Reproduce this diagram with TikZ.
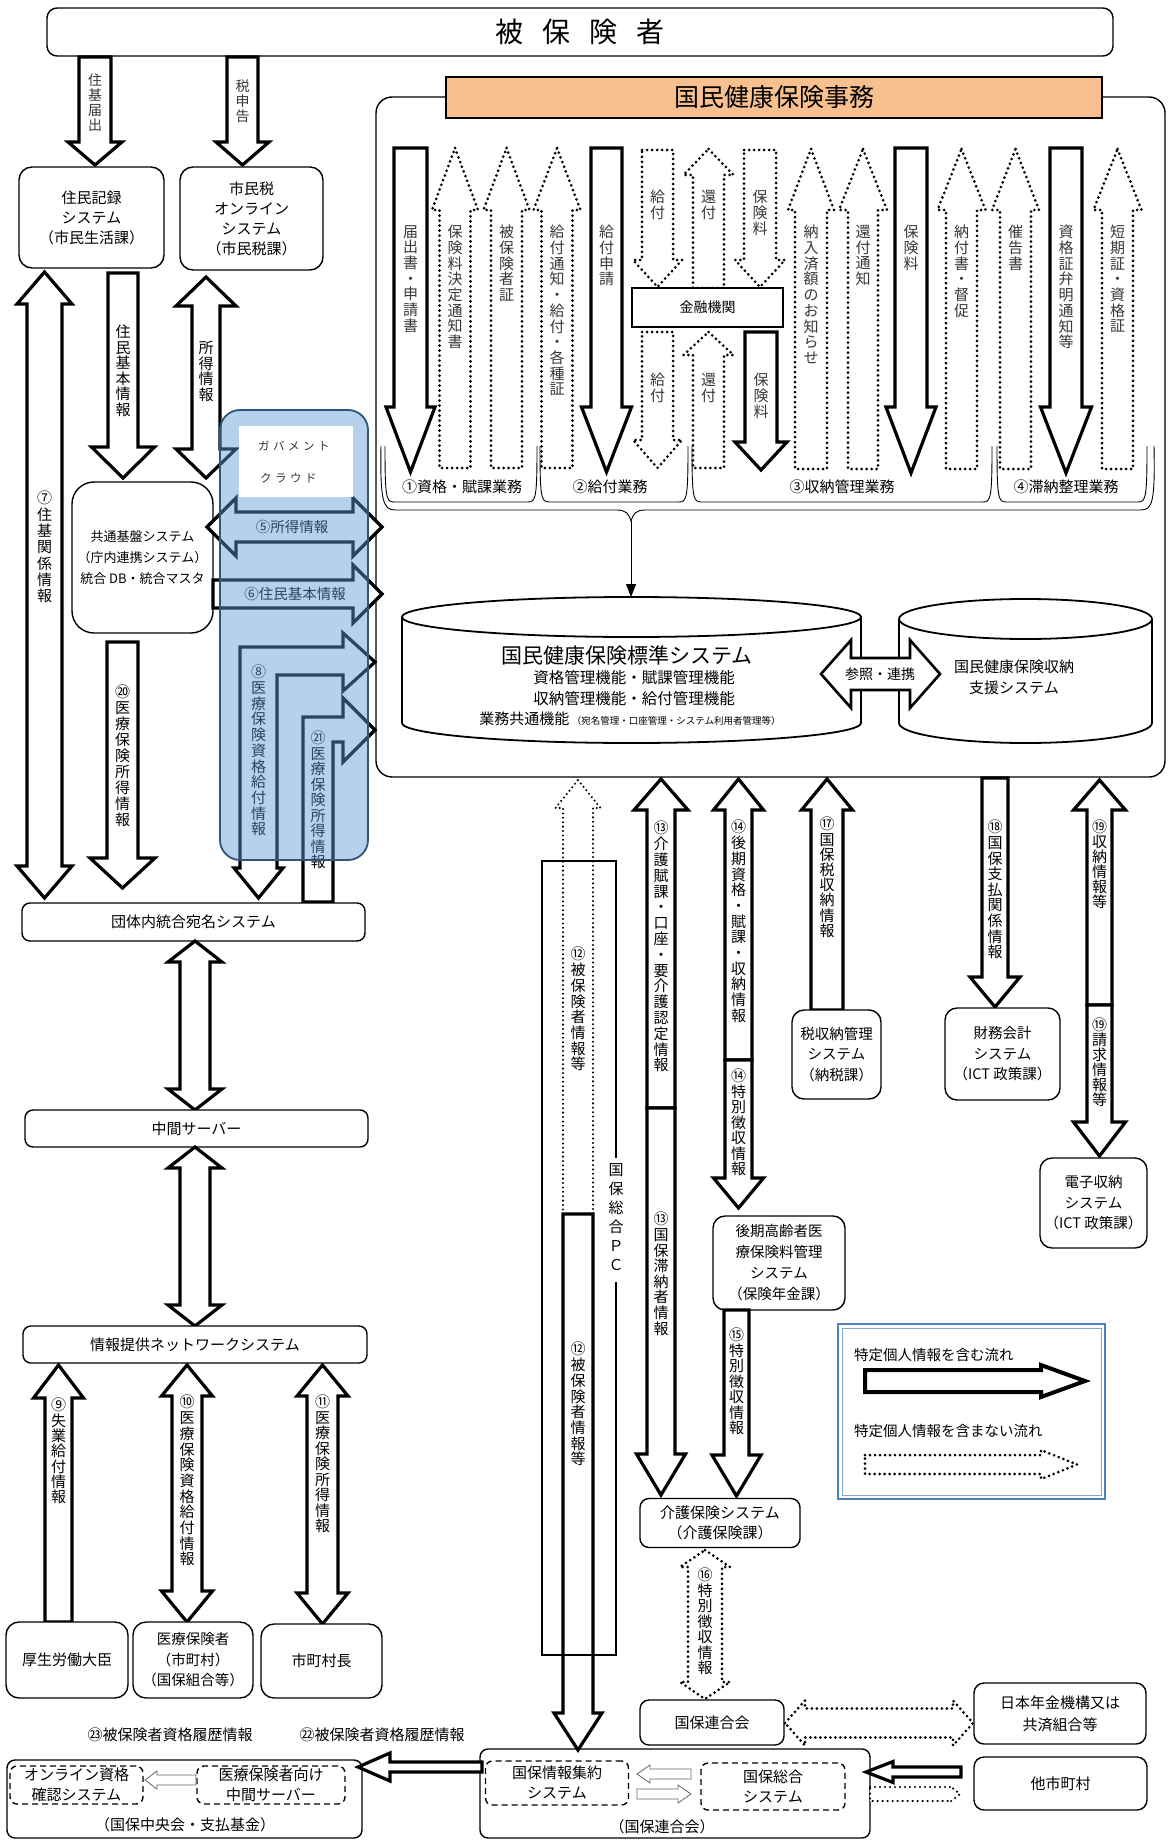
\documentclass[tikz,border=0pt]{standalone}
\usepackage{fontspec}
\setmainfont{Noto Sans CJK JP}
\usetikzlibrary{arrows.meta}
\definecolor{orng}{RGB}{248,192,142}
\definecolor{cloudfill}{RGB}{91,155,213}
\definecolor{cloudline}{RGB}{47,85,120}
\definecolor{legblue}{RGB}{79,129,189}
\makeatletter
\def\vt@end{\vt@end@@}
\newcommand\vtxt[2][15.7]{\vbox{\baselineskip=#1pt\lineskiplimit=-100pt\lineskip=0pt\vt@loop#2\vt@end}}
\def\vt@loop#1{\ifx#1\vt@end\else\hbox to 1.1em{\hss#1\hss}\expandafter\vt@loop\fi}
\makeatother
% vertical arrows: [style]{cx}{ytop}{ybot}{shaft half}{head half}{head len}
\newcommand\ArrD[7][]{%
 \pgfmathsetmacro\zaL{#2-#5}\pgfmathsetmacro\zaR{#2+#5}%
 \pgfmathsetmacro\zhL{#2-#6}\pgfmathsetmacro\zhR{#2+#6}%
 \pgfmathsetmacro\zyB{#4-#7}%
 \draw[#1] (\zaL,#3) -- (\zaR,#3) -- (\zaR,\zyB) -- (\zhR,\zyB) -- (#2,#4) -- (\zhL,\zyB) -- (\zaL,\zyB) -- cycle;}
\newcommand\ArrU[7][]{%
 \pgfmathsetmacro\zaL{#2-#5}\pgfmathsetmacro\zaR{#2+#5}%
 \pgfmathsetmacro\zhL{#2-#6}\pgfmathsetmacro\zhR{#2+#6}%
 \pgfmathsetmacro\zyT{#3+#7}%
 \draw[#1] (#2,#3) -- (\zhR,\zyT) -- (\zaR,\zyT) -- (\zaR,#4) -- (\zaL,#4) -- (\zaL,\zyT) -- (\zhL,\zyT) -- cycle;}
\newcommand\ArrB[7][]{%
 \pgfmathsetmacro\zaL{#2-#5}\pgfmathsetmacro\zaR{#2+#5}%
 \pgfmathsetmacro\zhL{#2-#6}\pgfmathsetmacro\zhR{#2+#6}%
 \pgfmathsetmacro\zyT{#3+#7}\pgfmathsetmacro\zyB{#4-#7}%
 \draw[#1] (#2,#3) -- (\zhR,\zyT) -- (\zaR,\zyT) -- (\zaR,\zyB) -- (\zhR,\zyB) -- (#2,#4) -- (\zhL,\zyB) -- (\zaL,\zyB) -- (\zaL,\zyT) -- (\zhL,\zyT) -- cycle;}
% horizontal arrows: [style]{cy}{xleft}{xright}{shaft half}{head half}{head len}
\newcommand\ArrR[7][]{%
 \pgfmathsetmacro\zaT{#2-#5}\pgfmathsetmacro\zaB{#2+#5}%
 \pgfmathsetmacro\zhT{#2-#6}\pgfmathsetmacro\zhB{#2+#6}%
 \pgfmathsetmacro\zxB{#4-#7}%
 \draw[#1] (#3,\zaT) -- (\zxB,\zaT) -- (\zxB,\zhT) -- (#4,#2) -- (\zxB,\zhB) -- (\zxB,\zaB) -- (#3,\zaB) -- cycle;}
\newcommand\ArrL[7][]{%
 \pgfmathsetmacro\zaT{#2-#5}\pgfmathsetmacro\zaB{#2+#5}%
 \pgfmathsetmacro\zhT{#2-#6}\pgfmathsetmacro\zhB{#2+#6}%
 \pgfmathsetmacro\zxB{#3+#7}%
 \draw[#1] (#3,#2) -- (\zxB,\zhT) -- (\zxB,\zaT) -- (#4,\zaT) -- (#4,\zaB) -- (\zxB,\zaB) -- (\zxB,\zhB) -- cycle;}
\newcommand\ArrLR[7][]{%
 \pgfmathsetmacro\zaT{#2-#5}\pgfmathsetmacro\zaB{#2+#5}%
 \pgfmathsetmacro\zhT{#2-#6}\pgfmathsetmacro\zhB{#2+#6}%
 \pgfmathsetmacro\zxA{#3+#7}\pgfmathsetmacro\zxB{#4-#7}%
 \draw[#1] (#3,#2) -- (\zxA,\zhT) -- (\zxA,\zaT) -- (\zxB,\zaT) -- (\zxB,\zhT) -- (#4,#2) -- (\zxB,\zhB) -- (\zxB,\zaB) -- (\zxA,\zaB) -- (\zxA,\zhB) -- cycle;}
\newcommand\grpbr[2]{\draw[line width=0.9pt] (#1,446) .. controls (#1,497) and (#1+1,502) .. (#1+9,502) -- (#2-9,502) .. controls (#2-1,502) and (#2,497) .. (#2,446);}
\begin{document}
\begin{tikzpicture}[x=1pt,y=-1pt,
 every node/.style={inner sep=0pt, font=\fontsize{15}{20}\selectfont},
 rbox/.style={draw, line width=1.4pt, rounded corners=13pt, fill=white, align=center},
 sbox/.style={draw, line width=1.4pt, fill=white, align=center},
 dbox/.style={draw, line width=1.4pt, dash pattern=on 6pt off 4pt, rounded corners=7pt, align=center},
 vlab/.style={anchor=north, font=\fontsize{15}{16}\selectfont},
 vlabg/.style={vlab, text=black!78},
 sarr/.style={draw, line width=3.2pt, fill=white},
 darr/.style={draw, line width=3pt, fill=white, dash pattern=on 0pt off 5pt, line cap=round},
 darrthin/.style={draw, line width=2.3pt, fill=white, dash pattern=on 0pt off 4.4pt, line cap=round},
 thinarr/.style={draw=black!60, line width=0.8pt, fill=white}]
\useasboundingbox (0,0) rectangle (1168,1843);
\fill[white] (0,0) rectangle (1168,1843);

% ===== top =====
\node[rbox, rounded corners=10pt, minimum width=1066pt, minimum height=48pt, font=\fontsize{28}{30}\selectfont] (hiho) at (580,32) {被\hspace{19pt}保\hspace{19pt}険\hspace{19pt}者};
\node[draw, line width=1.4pt, rounded corners=16pt, minimum width=789pt, minimum height=680pt] (kokuho) at (770.5,437) {};
\node[draw, line width=1.8pt, fill=orng, minimum width=656pt, minimum height=41pt, font=\fontsize{25}{28}\selectfont] (title) at (774,97.5) {国民健康保険事務};

\ArrD[sarr]{95}{57}{165}{16}{27}{23}
\node[vlabg, font=\fontsize{14}{15}\selectfont] at (95,74) {\vtxt[15]{住基届出}};
\ArrD[sarr]{242.5}{57}{165}{15.5}{26.5}{23}
\node[vlabg, font=\fontsize{14}{15}\selectfont] at (242.5,80) {\vtxt[15]{税申告}};

\node[rbox, minimum width=145pt, minimum height=101pt] (jumin) at (91.5,217.5) {住民記録\\システム\\（市民生活課）};
\node[rbox, minimum width=143pt, minimum height=103pt] (shimin) at (251.5,218.5) {市民税\\オンライン\\システム\\（市民税課）};

% ===== business arrows inside main box =====
\ArrD[sarr]{410.5}{148}{472}{16.5}{24.5}{65}
\node[vlabg] at (410.5,225) {\vtxt{届出書・申請書}};
\ArrU[darr]{455}{148}{468}{15.5}{23}{62}
\node[vlabg] at (455,225) {\vtxt{保険料決定通知書}};
\ArrU[darr]{506.5}{148}{468}{15.5}{23}{62}
\node[vlabg] at (506.5,225) {\vtxt{被保険者証}};
\ArrU[darr]{557}{148}{468}{15.5}{23.5}{62}
\node[vlabg] at (557,225) {\vtxt{給付通知・給付・各種証}};
\ArrD[sarr]{606.5}{148}{472}{15.5}{25}{65}
\node[vlabg] at (606.5,225) {\vtxt{給付申請}};
\ArrD[darr]{657.5}{150}{287}{15.5}{24.5}{27}
\node[vlabg] at (657.5,190) {\vtxt{給付}};
\ArrU[darr]{708.5}{149}{288}{15.5}{25}{26}
\node[vlabg] at (708.5,190) {\vtxt{還付}};
\ArrD[darr]{760}{150}{287}{16}{25}{27}
\node[vlabg] at (760,190) {\vtxt{保険料}};
\node[sbox, line width=2pt, minimum width=151pt, minimum height=39pt, font=\fontsize{14}{16}\selectfont] (kin) at (707.5,307.5) {金融機関};
\ArrD[darr]{657.5}{332}{468}{15.5}{24.5}{28}
\node[vlabg] at (657.5,373) {\vtxt{給付}};
\ArrU[darr]{708.5}{332}{468}{15.5}{25}{23}
\node[vlabg] at (708.5,373) {\vtxt{還付}};
\ArrD[sarr]{761}{332}{470}{16}{26}{28}
\node[vlabg] at (761,373) {\vtxt{保険料}};
\ArrU[darr]{811}{149}{469}{16}{23}{61}
\node[vlabg] at (811,225) {\vtxt{納入済額のお知らせ}};
\ArrU[darr]{863}{149}{469}{15}{24}{61}
\node[vlabg] at (863,225) {\vtxt{還付通知}};
\ArrD[sarr]{911}{148}{473}{16}{25}{66}
\node[vlabg] at (911,225) {\vtxt{保険料}};
\ArrU[darr]{961.5}{149}{469}{15.5}{24}{61}
\node[vlabg] at (961.5,225) {\vtxt{納付書・督促}};
\ArrU[darr]{1015.5}{149}{469}{15.5}{23.5}{61}
\node[vlabg] at (1015.5,225) {\vtxt{催告書}};
\ArrD[sarr]{1066}{148}{473}{16}{25.5}{66}
\node[vlabg] at (1066,225) {\vtxt{資格証弁明通知等}};
\ArrU[darr]{1117.5}{149}{469}{15.5}{24}{61}
\node[vlabg] at (1117.5,225) {\vtxt{短期証・資格証}};

\grpbr{385}{537}
\grpbr{540}{688}
\grpbr{692}{992}
\grpbr{997}{1147}
\node (g1) at (462,487) {①資格・賦課業務};
\node (g2) at (610,487) {②給付業務};
\node (g3) at (842,487) {③収納管理業務};
\node (g4) at (1066,487) {④滞納整理業務};
\draw[line width=0.9pt] (381,446) .. controls (380,500) and (383,510) .. (395,510) -- (617,510) .. controls (626,510) and (629,514) .. (631,521) .. controls (633,514) and (636,510) .. (645,510) -- (1141,510) .. controls (1153,510) and (1155,500) .. (1154,446);
\coordinate (brace) at (631,521);
\coordinate (stdtop) at (631,597);
\draw[line width=1pt, -{Triangle[length=13pt,width=10pt]}] (brace) -- (stdtop);

% cylinders
\draw[line width=1.8pt, fill=white] (402,617) -- (402,723) .. controls (402,734) and (504.7,743) .. (631.5,743) .. controls (758.3,743) and (861,734) .. (861,723) -- (861,617);
\draw[line width=1.8pt, fill=white] (631.5,617) ellipse [x radius=229.5, y radius=20];
\draw[line width=1.8pt, fill=white] (899,619) -- (899,723) .. controls (899,734) and (955.6,743) .. (1025.5,743) .. controls (1095.4,743) and (1152,734) .. (1152,723) -- (1152,619);
\draw[line width=1.8pt, fill=white] (1025.5,619) ellipse [x radius=126.5, y radius=20];
\node[font=\fontsize{21}{24}\selectfont] (std) at (627,656) {国民健康保険標準システム};
\node[font=\fontsize{15.5}{18}\selectfont] at (634,678) {資格管理機能・賦課管理機能};
\node[font=\fontsize{15.5}{18}\selectfont] at (634,699) {収納管理機能・給付管理機能};
\node[font=\fontsize{15}{18}\selectfont] at (630,719) {業務共通機能\,{\fontsize{9.5}{10}\selectfont （宛名管理・口座管理・システム利用者管理等）}};
\node[align=center, font=\fontsize{15}{21}\selectfont] (shuno) at (1014,677) {国民健康保険収納\\支援システム};
\ArrLR[sarr, line width=2.6pt]{674}{821}{940}{16}{34}{30}
\node[font=\fontsize{14}{16}\selectfont] at (880,674) {参照・連携};

% ===== left column =====
\ArrB[sarr]{44.5}{272}{898}{17.5}{27.5}{32}
\node[vlab] at (44.5,491) {\vtxt[16.3]{⑦住基関係情報}};
\ArrD[sarr]{123}{273}{478}{15}{31.5}{31}
\node[vlab] at (123,325) {\vtxt[15.5]{住民基本情報}};
\ArrB[sarr]{206}{277}{478}{14}{30}{29}
\node[vlab] at (206,341) {\vtxt[15.5]{所得情報}};
\node[rbox, rounded corners=22pt, minimum width=141pt, minimum height=151pt, font=\fontsize{13}{21}\selectfont] (kiban) at (142.5,557.5) {共通基盤システム\\（庁内連携システム）\\統合 DB・統合マスタ};
\ArrD[sarr]{122.5}{642}{888}{15.5}{32.5}{30}
\node[vlab] at (122.5,685) {\vtxt[16]{⑳医療保険所得情報}};

% arrows through gov cloud
\ArrLR[sarr]{527}{207}{382}{15}{29}{29}
\node[font=\fontsize{14.5}{16}\selectfont] at (292,527) {⑤所得情報};
\ArrR[sarr]{594}{213}{382}{14}{29}{29}
\node[font=\fontsize{14.5}{16}\selectfont] at (295,594) {⑥住民基本情報};
\draw[sarr] (240,868) -- (240,647) -- (343,647) -- (343,633) -- (375,662) -- (343,691) -- (343,675) -- (277,675) -- (277,868) -- (283,868) -- (258.5,898) -- (234,868) -- cycle;
\draw[sarr] (303,902) -- (303,717) -- (343,717) -- (343,698) -- (375,730) -- (343,762) -- (343,742) -- (333,742) -- (333,902) -- cycle;
\node[vlab] at (258.5,665) {\vtxt[15.7]{⑧医療保険資格給付情報}};
\node[vlab] at (318,731) {\vtxt[15.5]{㉑医療保険所得情報}};
% cloud overlay
\fill[cloudfill, fill opacity=0.45, rounded corners=20pt] (220,410) rectangle (368,860);
\draw[cloudline, line width=1.8pt, rounded corners=20pt] (220,410) rectangle (368,860);
\fill[white] (239,426) rectangle (353,497);
\node[anchor=west, text=black!80, font=\fontsize{11.5}{12}\selectfont] (gov) at (258,446) {ガ\hspace{3.5pt}バ\hspace{3.5pt}メ\hspace{3.5pt}ン\hspace{3.5pt}ト};
\node[anchor=west, text=black!80, font=\fontsize{11.5}{12}\selectfont] (cloud) at (260,478) {ク\hspace{3.5pt}ラ\hspace{3.5pt}ウ\hspace{3.5pt}ド};

\node[rbox, rounded corners=8pt, minimum width=343pt, minimum height=38pt] (dantai) at (193.5,922) {団体内統合宛名システム};
\ArrB[sarr]{195}{941}{1110}{15}{27}{21}
\node[rbox, rounded corners=8pt, minimum width=343pt, minimum height=37pt] (chukan) at (196.5,1128.5) {中間サーバー};
\ArrB[sarr]{195}{1147}{1326}{15}{27}{21}
\node[rbox, rounded corners=8pt, minimum width=344pt, minimum height=37pt] (joho) at (195,1344.5) {情報提供ネットワークシステム};

\ArrU[sarr]{58.5}{1365}{1622}{13.5}{25}{33}
\node[vlab] at (58.5,1398) {\vtxt[15.3]{⑨失業給付情報}};
\ArrB[sarr]{187}{1365}{1622}{15}{25.5}{31}
\node[vlab] at (187,1395) {\vtxt[15.7]{⑩医療保険資格給付情報}};
\ArrB[sarr]{322.5}{1365}{1624}{15.5}{25.5}{31}
\node[vlab] at (322.5,1395) {\vtxt[15.5]{⑪医療保険所得情報}};
\node[rbox, minimum width=122pt, minimum height=76pt] (kosei) at (67,1660) {厚生労働大臣};
\node[rbox, minimum width=120pt, minimum height=76pt, font=\fontsize{14.5}{20.5}\selectfont] (iryo) at (193,1660) {医療保険者\\（市町村）\\（国保組合等）};
\node[rbox, minimum width=121pt, minimum height=74pt] (chocho) at (321.5,1661) {市町村長};

% bottom left
\node (t23) at (170,1735) {㉓被保険者資格履歴情報};
\node (t22) at (382,1735) {㉒被保険者資格履歴情報};
\draw[line width=1.4pt, rounded corners=8pt] (7,1760) rectangle (362,1838);
\node (chuo) at (185,1825) {（国保中央会・支払基金）};
\node[dbox, minimum width=133pt, minimum height=38pt] (online) at (76.5,1785) {オンライン資格\\確認システム};
\node[dbox, minimum width=148pt, minimum height=38pt] (iryochukan) at (271,1785) {医療保険者向け\\中間サーバー};
\ArrL[thinarr]{1780}{145}{196}{5}{9}{12}

% ===== lower right =====
\ArrU[darrthin]{578}{780}{1214}{15}{22.5}{28}
\node[vlab] at (578,947) {\vtxt[15.7]{⑫被保険者情報等}};
\ArrD[sarr]{578}{1214}{1750}{15}{24}{37}
\node[vlab] at (578,1342) {\vtxt[15.7]{⑫被保険者情報等}};
\draw[line width=1.4pt] (616,1158) -- (616,861) -- (542,861) -- (542,1655) -- (616,1655) -- (616,1282);
\node[vlab] (pc) at (616,1163) {\vtxt[19]{国保総合ＰＣ}};

\ArrU[sarr]{661}{779}{1108}{14}{27}{31}
\node[vlab] at (661,821) {\vtxt[15.8]{⑬介護賦課・口座・要介護認定情報}};
\ArrD[sarr]{661}{1108}{1495}{14}{24.5}{41}
\node[vlab] at (661,1212) {\vtxt[15.6]{⑬国保滞納者情報}};
\ArrU[sarr]{738.5}{779}{1060}{13.5}{25}{31}
\node[vlab] at (738.5,820) {\vtxt[15.7]{⑭後期資格・賦課・収納情報}};
\ArrD[sarr]{738.5}{1060}{1208}{13.5}{25}{30}
\node[vlab] at (738.5,1069) {\vtxt[15.5]{⑭特別徴収情報}};
\node[rbox, rounded corners=12pt, minimum width=132pt, minimum height=94pt, font=\fontsize{14.5}{21}\selectfont] (kouki) at (779,1263) {後期高齢者医\\療保険料管理\\システム\\（保険年金課）};
\ArrD[sarr]{736.5}{1310}{1496}{12.5}{24.5}{41}
\node[vlab] at (736.5,1328) {\vtxt[15.5]{⑮特別徴収情報}};
\ArrU[sarr]{827}{779}{1010}{16}{25.5}{31}
\node[vlab] at (827,817) {\vtxt[15.2]{⑰国保税収納情報}};
\node[rbox, rounded corners=12pt, minimum width=89pt, minimum height=89pt, font=\fontsize{14.5}{20.5}\selectfont] (zeishu) at (836.5,1054.5) {税収納管理\\システム\\（納税課）};
\ArrD[sarr]{995}{778}{1007}{13}{25}{30}
\node[vlab] at (995,820) {\vtxt[15.6]{⑱国保支払関係情報}};
\node[rbox, rounded corners=12pt, minimum width=115pt, minimum height=92pt, font=\fontsize{14.5}{20.5}\selectfont] (zaimu) at (1002.5,1054) {財務会計\\システム\\（ICT 政策課）};
\ArrU[sarr]{1099.5}{780}{1005}{12.5}{26}{30}
\node[vlab] at (1099.5,820) {\vtxt[15]{⑲収納情報等}};
\ArrD[sarr]{1099.5}{1005}{1156}{12.5}{26}{34}
\node[vlab] at (1099.5,1018) {\vtxt[15]{⑲請求情報等}};
\node[rbox, rounded corners=12pt, minimum width=107pt, minimum height=90pt, font=\fontsize{14.5}{20.5}\selectfont] (denshi) at (1093.5,1203) {電子収納\\システム\\（ICT 政策課）};

% legend
\draw[legblue, line width=1.6pt] (838,1324) rectangle (1105,1499);
\draw[legblue!70, line width=0.7pt] (842,1328) rectangle (1101,1495);
\node[anchor=west, font=\fontsize{14.5}{16}\selectfont] (leg1) at (854,1355) {特定個人情報を含む流れ};
\ArrR[sarr, line width=4pt]{1381}{865}{1085}{11}{16}{44}
\node[anchor=west, font=\fontsize{14.5}{16}\selectfont] (leg2) at (854,1431) {特定個人情報を含まない流れ};
\ArrR[darr]{1464.5}{865}{1077}{9.5}{14.5}{36}

\node[rbox, rounded corners=9pt, minimum width=160pt, minimum height=49pt] (kaigo) at (720,1523) {介護保険システム\\（介護保険課）};
\ArrB[darr]{705}{1550}{1699}{17}{25}{17}
\node[vlab] at (705,1568) {\vtxt[15.5]{⑯特別徴収情報}};
\node[rbox, rounded corners=9pt, minimum width=144pt, minimum height=45pt] (rengo) at (712,1722.5) {国保連合会};
\node[rbox, rounded corners=10pt, minimum width=172pt, minimum height=61pt, align=center, font=\fontsize{15}{22}\selectfont] (nenkin) at (1060,1713.5) {日本年金機構又は\\共済組合等};
\node[rbox, rounded corners=10pt, minimum width=173pt, minimum height=53pt] (tashi) at (1060.5,1783.5) {他市町村};
\ArrLR[darr]{1723}{785}{973}{14.5}{22.5}{20}

\node[draw, line width=1.4pt, rounded corners=8pt, minimum width=390pt, minimum height=89pt] (rengoB) at (675,1793.5) {};
\node (rengoT) at (662,1827) {（国保連合会）};
\node[dbox, minimum width=143pt, minimum height=44pt] (shuyaku) at (557,1783) {国保情報集約\\システム};
\node[dbox, minimum width=144pt, minimum height=47pt] (sogo) at (773,1786.5) {国保総合\\システム};
\ArrL[thinarr]{1774}{637}{691}{5}{9}{13}
\ArrR[thinarr]{1794}{637}{691}{5}{9}{13}
\ArrL[sarr]{1767}{358}{482}{5}{14}{32}
\ArrL[sarr]{1772}{866}{961}{5}{10.5}{27}
\ArrR[darr, line width=2.4pt]{1794}{870}{960}{7}{8}{10}
\end{tikzpicture}
\end{document}
